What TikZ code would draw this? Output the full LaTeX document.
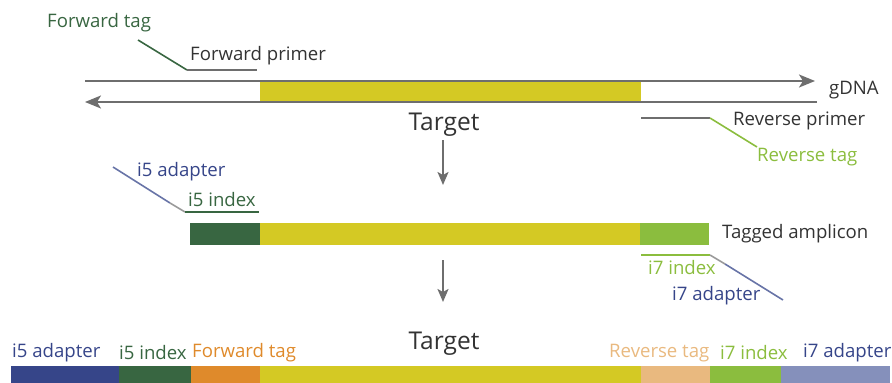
\documentclass[tikz,border=0pt]{standalone}
\usepackage{fontspec}
\setmainfont{Open Sans}
\usetikzlibrary{arrows.meta}
\definecolor{cyel}{RGB}{212,201,36}
\definecolor{cdg}{RGB}{56,102,65}
\definecolor{clg}{RGB}{139,189,62}
\definecolor{cor}{RGB}{223,138,43}
\definecolor{ctan}{RGB}{233,185,127}
\definecolor{cbl}{RGB}{54,69,137}
\definecolor{clav}{RGB}{133,144,187}
\definecolor{cgr}{RGB}{110,110,110}
\definecolor{ctx}{RGB}{51,51,51}
\tikzset{
  lbl/.style={inner sep=0pt, anchor=west, font=\fontsize{18.6}{22}\selectfont, text=ctx},
  big/.style={inner sep=0pt, font=\fontsize{24.5}{29}\selectfont, text=ctx},
  strand/.style={draw=cgr, line width=2pt},
  lead/.style={line width=1.6pt},
  down/.style={draw=cgr, line width=2pt, -{Stealth[length=13pt,width=11pt,inset=3pt]}},
}
\begin{document}
\begin{tikzpicture}[x=1pt,y=-1pt]
\useasboundingbox (0,0) rectangle (892,383);
% ---- gDNA ----
\fill[cyel] (260,81) rectangle (641,102);
\coordinate (t1) at (85,81);
\coordinate (t2) at (815,81);
\coordinate (b1) at (817,102);
\coordinate (b2) at (85,102);
\draw[strand, -{Stealth[length=16pt,width=13pt,inset=4pt]}] (t1) -- (t2);
\draw[strand, -{Stealth[length=16pt,width=13pt,inset=4pt]}] (b1) -- (b2);
\node[lbl] (gdna) at (829,90) {gDNA};
\node[big] (target1) at (444,125) {Target};
% forward primer/tag
\node[lbl, text=cdg] (ftag) at (47,23) {Forward tag};
\node[lbl] (fprim) at (190,56) {Forward primer};
\coordinate (f1) at (138,40);
\coordinate (f2) at (187,70);
\coordinate (f3) at (257,70);
\draw[lead, cdg] (f1) -- (f2);
\draw[lead, cgr] (f2) -- (f3);
% reverse primer/tag
\node[lbl] (rprim) at (733,121) {Reverse primer};
\node[lbl, text=clg] (rtag) at (757,157) {Reverse tag};
\coordinate (r1) at (641,118);
\coordinate (r2) at (710,118);
\coordinate (r3) at (757,147);
\draw[lead, cgr] (r1) -- (r2);
\draw[lead, clg] (r2) -- (r3);
% arrow 1
\coordinate (a1s) at (443,140);
\coordinate (a1e) at (443,185);
\draw[down] (a1s) -- (a1e);
% ---- tagged amplicon ----
\fill[cdg] (190,223) rectangle (260,245);
\fill[cyel] (260,223) rectangle (640,245);
\fill[clg] (640,223) rectangle (709,245);
\node[lbl] (tamp) at (722,234) {Tagged amplicon};
\node[lbl, text=cbl] (i5a) at (137,172) {i5 adapter};
\node[lbl, text=cdg] (i5i) at (188,200) {i5 index};
\coordinate (p1) at (113,167);
\coordinate (p2) at (170,203);
\coordinate (p3) at (185,212);
\coordinate (p4) at (259,212);
\draw[lead, cbl!75] (p1) -- (p2);
\draw[lead, cgr!70] (p2) -- (p3);
\draw[lead, cdg] (p3) -- (p4);
\node[lbl, text=clg] (i7i) at (648,268) {i7 index};
\node[lbl, text=cbl] (i7a) at (672,296) {i7 adapter};
\coordinate (q1) at (641,255);
\coordinate (q2) at (710,255);
\coordinate (q3) at (725,264);
\coordinate (q4) at (783,300);
\draw[lead, clg] (q1) -- (q2);
\draw[lead, cgr!70] (q2) -- (q3);
\draw[lead, cbl!75] (q3) -- (q4);
% arrow 2
\coordinate (a2s) at (443,260);
\coordinate (a2e) at (443,302);
\draw[down] (a2s) -- (a2e);
% ---- final library ----
\node[big] (target2) at (444,344) {Target};
\fill[cbl] (11,366) rectangle (119,383);
\fill[cdg] (119,366) rectangle (191,383);
\fill[cor] (191,366) rectangle (260,383);
\fill[cyel] (260,366) rectangle (641,383);
\fill[ctan] (641,366) rectangle (710,383);
\fill[clg] (710,366) rectangle (781,383);
\fill[clav] (781,366) rectangle (890,383);
\node[lbl, text=cbl] (l1) at (12,353) {i5 adapter};
\node[lbl, text=cdg] (l2) at (119,353) {i5 index};
\node[lbl, text=cor] (l3) at (192,353) {Forward tag};
\node[lbl, text=ctan] (l4) at (609,353) {Reverse tag};
\node[lbl, text=clg] (l5) at (720,353) {i7 index};
\node[lbl, text=cbl] (l6) at (803,353) {i7 adapter};
\end{tikzpicture}
\end{document}
